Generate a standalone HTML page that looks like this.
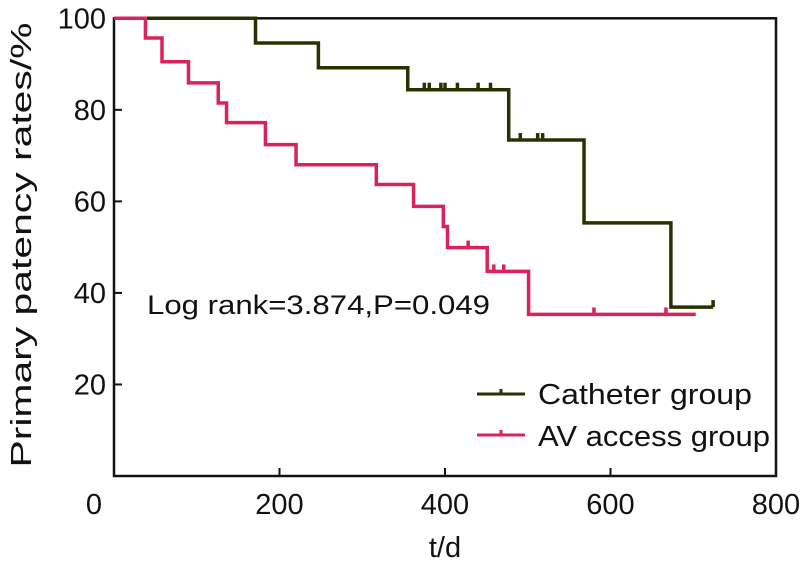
<!DOCTYPE html>
<html><head><meta charset="utf-8"><style>
body{margin:0;background:#fff}
svg text{font-family:"Liberation Sans",sans-serif;fill:#111}
</style></head><body>
<svg id="chart" width="803" height="570" viewBox="0 0 803 570" xmlns="http://www.w3.org/2000/svg">
<g id="axes"></g><g id="series"></g>
<text x="147" y="314" font-size="27" textLength="343" lengthAdjust="spacingAndGlyphs">Log rank=3.874,P=0.049</text>
<g>
<line x1="477" y1="394" x2="525" y2="394" stroke="#2b3000" stroke-width="3"/>
<line x1="501" y1="394" x2="501" y2="389" stroke="#2b3000" stroke-width="3"/>
<text x="538" y="404" font-size="29" textLength="214" lengthAdjust="spacingAndGlyphs">Catheter group</text>
<line x1="477" y1="435" x2="525" y2="435" stroke="#d8245a" stroke-width="3"/>
<line x1="501" y1="435" x2="501" y2="430" stroke="#d8245a" stroke-width="3"/>
<text x="538" y="446" font-size="29" textLength="232" lengthAdjust="spacingAndGlyphs">AV access group</text>
</g>
<text x="445" y="557" font-size="29" text-anchor="middle">t/d</text>
<text transform="translate(31,245) rotate(-90)" font-size="29" text-anchor="middle" textLength="445" lengthAdjust="spacingAndGlyphs">Primary patency rates/%</text>
</svg>
<script>
const xTicks=[0,200,400,600,800];
const yTicks=[20,40,60,80,100];
const cathTimes=[0,171,247,355,477,568,673,724];
const cathVals=[100,94.6,89.2,84.4,73.4,55.3,36.9,36.9];
const cathCensorT=[375,381,395,400,415,440,455,491,512,518,724];
const cathCensorV=[84.4,84.4,84.4,84.4,84.4,84.4,84.4,73.4,73.4,73.4,36.9];
const avTimes=[0,38,58,90,126,136,183,220,317,362,398,403,451,501,703];
const avVals=[100,95.7,90.5,85.9,81.5,77.2,72.4,68.0,63.7,58.9,54.5,49.9,44.7,35.3,35.3];
const avCensorT=[428,459,471,580,667];
const avCensorV=[49.9,44.7,44.7,35.3,35.3];

const X0=114,X1=776,Y0=476,YT=18.3;
const sx=t=>X0+t*(X1-X0)/800;
const sy=v=>Y0-(v)*(Y0-YT)/100;
const NS="http://www.w3.org/2000/svg";
function mk(tag,attrs,parent){const e=document.createElementNS(NS,tag);for(const k in attrs)e.setAttribute(k,attrs[k]);parent.appendChild(e);return e;}
const axes=document.getElementById('axes'),series=document.getElementById('series');
const frame=mk('rect',{x:X0,y:YT,width:X1-X0,height:Y0-YT,fill:'none',stroke:'#111','stroke-width':2.5},axes);


xTicks.forEach(t=>{
 if(t>0&&t<800){const l=mk('line',{x1:sx(t),x2:sx(t),y1:Y0,y2:Y0-8,stroke:'#111','stroke-width':2},axes);
 
 }
 const tx=mk('text',{x:sx(t)-(t==0?20:0),y:514,'font-size':29,'text-anchor':'middle'},axes);tx.textContent=t;
 
 
});
yTicks.forEach(v=>{
 if(v<100){const l=mk('line',{x1:X0,x2:X0+8,y1:sy(v),y2:sy(v),stroke:'#111','stroke-width':2},axes);
 
 }
 const tx=mk('text',{x:106,y:sy(v)+10,'font-size':29,'text-anchor':'end'},axes);tx.textContent=v;
 
 
});
function stepPath(T,V){let d=`M${sx(T[0])},${sy(V[0])}`;for(let i=1;i<T.length;i++){d+=` H${sx(T[i])} V${sy(V[i])}`;}return d;}
function draw(T,V,CT,CV,color,name){
 const p=mk('path',{d:stepPath(T,V),fill:'none',stroke:color,'stroke-width':3.5},series);
 
 
 CT.forEach((t,i)=>{const c=mk('line',{x1:sx(t),x2:sx(t),y1:sy(CV[i]),y2:sy(CV[i])-7,stroke:color,'stroke-width':3.5},series);
 
 });
}
draw(cathTimes,cathVals,cathCensorT,cathCensorV,'#2b3000','catheter');
draw(avTimes,avVals,avCensorT,avCensorV,'#d8245a','av-access');
</script>
</body></html>
